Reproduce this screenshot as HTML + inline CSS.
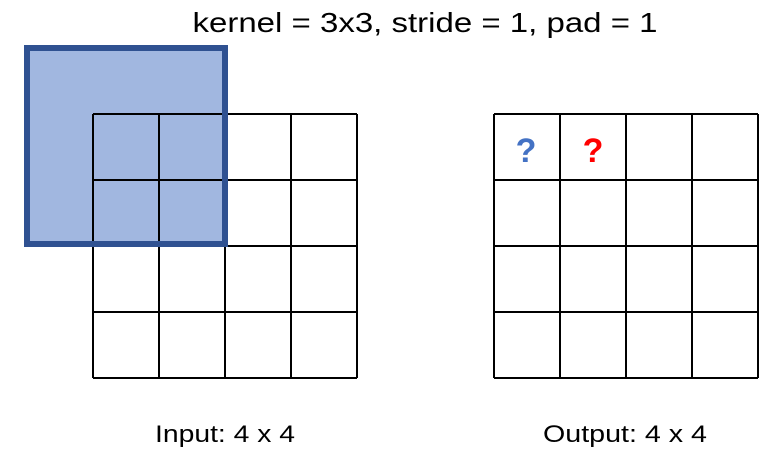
<!DOCTYPE html>
<html><head><meta charset="utf-8"><style>
html,body{margin:0;padding:0;background:#fff;}
svg{display:block;font-family:"Liberation Sans",sans-serif;}
</style></head><body>
<svg id="s" width="776" height="451" viewBox="0 0 776 451">
<text x="425" y="32" font-size="28" text-anchor="middle" textLength="465" lengthAdjust="spacingAndGlyphs" fill="#000">kernel = 3x3, stride = 1, pad = 1</text>
<rect x="27" y="48" width="198" height="196" fill="#A1B7E0" stroke="#2F5191" stroke-width="6"/>
<g id="inGrid"></g>
<g id="outGrid"></g>
<text x="526" y="162" font-size="34" font-weight="bold" fill="#4472C4" text-anchor="middle">?</text>
<text x="593" y="162" font-size="34" font-weight="bold" fill="#FF0000" text-anchor="middle">?</text>
<text x="225" y="442" font-size="24" text-anchor="middle" textLength="140" lengthAdjust="spacingAndGlyphs">Input: 4 x 4</text>
<text x="625" y="442" font-size="24" text-anchor="middle" textLength="164" lengthAdjust="spacingAndGlyphs">Output: 4 x 4</text>
</svg>
<script>
const gridSize = 4;
const cellSize = 66;
const NS = "http://www.w3.org/2000/svg";
function drawGrid(g, x0, y0) {
  for (let i = 0; i <= gridSize; i++) {
    const h = document.createElementNS(NS, "line");
    h.setAttribute("x1", x0); h.setAttribute("x2", x0 + gridSize * cellSize);
    h.setAttribute("y1", y0 + i * cellSize); h.setAttribute("y2", y0 + i * cellSize);
    h.setAttribute("stroke", "#000"); h.setAttribute("stroke-width", "2");
    
    
    g.appendChild(h);
    const v = document.createElementNS(NS, "line");
    v.setAttribute("y1", y0); v.setAttribute("y2", y0 + gridSize * cellSize);
    v.setAttribute("x1", x0 + i * cellSize); v.setAttribute("x2", x0 + i * cellSize);
    v.setAttribute("stroke", "#000"); v.setAttribute("stroke-width", "2");
    
    
    g.appendChild(v);
  }
}
drawGrid(document.getElementById("inGrid"), 93, 114);
drawGrid(document.getElementById("outGrid"), 494, 114);
const k = document.createElementNS(NS, "rect");
k.setAttribute("x", 27); k.setAttribute("y", 48); k.setAttribute("width", 198); k.setAttribute("height", 196);
k.setAttribute("fill", "none"); k.setAttribute("stroke", "#2F5191"); k.setAttribute("stroke-width", "6");


document.getElementById("s").appendChild(k);
</script>
</body></html>
